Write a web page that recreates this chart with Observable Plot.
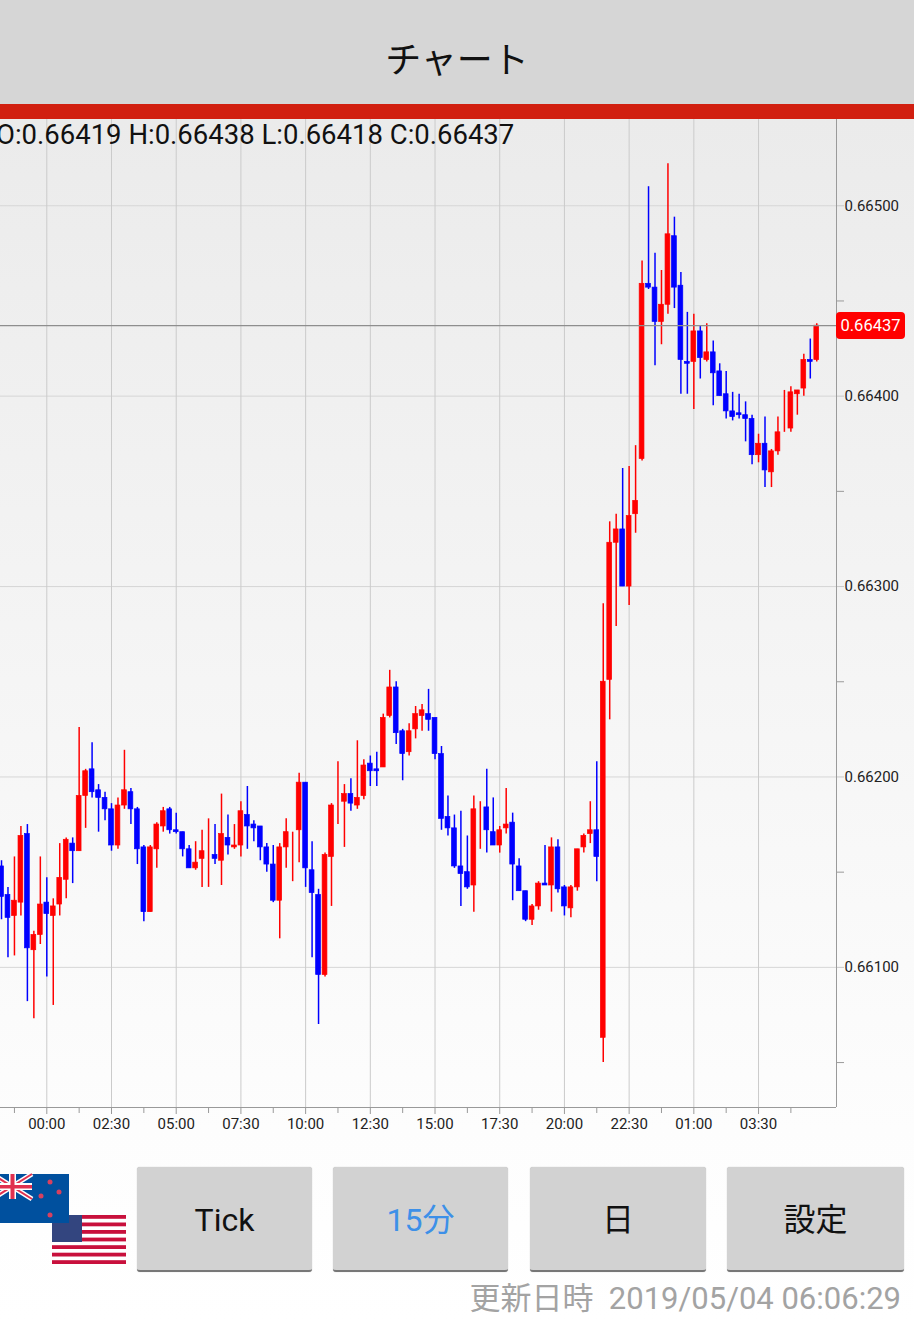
<!DOCTYPE html>
<html lang="ja">
<head>
<meta charset="utf-8">
<script src="https://cdn.jsdelivr.net/npm/d3@7"></script>
<script src="https://cdn.jsdelivr.net/npm/@observablehq/plot@0.6"></script>
<style>
html,body{margin:0;padding:0;width:914px;height:1323px;overflow:hidden;background:#fff}
#page{position:relative;width:914px;height:1323px;overflow:hidden;background:linear-gradient(#ebebeb 119px,#fdfdfd 1130px,#fff 1323px);font-family:Roboto,sans-serif}
#head{position:absolute;left:0;top:0;width:914px;height:104px;background:#d6d6d6;text-align:center;font:36px/114px "Noto Sans CJK JP";color:#111}
#band{position:absolute;left:0;top:104px;width:914px;height:15px;background:#d11f10}
#chart{position:absolute;left:0;top:119px}
#ohlc{position:absolute;left:-4px;top:118px;font-size:27.5px;line-height:34px;color:#111;white-space:nowrap}
#badge{position:absolute;left:836px;width:69px;height:27px;line-height:27px;background:#ff0000;border-radius:4px;color:#fff;font-size:16.5px;text-align:center}
.btn{position:absolute;top:1167px;height:103px;background:#d2d2d2;border-radius:3px;border-bottom:2px solid #777;box-shadow:0 0 1px #aaa;text-align:center;font:32px/106px Roboto,"Noto Sans CJK JP";color:#111}
#stamp{position:absolute;right:13px;top:1278px;font:31px/42px Roboto,"Noto Sans CJK JP";color:#a3a3a3;white-space:nowrap}
#flags{position:absolute;left:0;top:1170px}
</style>
</head>
<body>
<div id="page">
  <div id="head">チャート</div>
  <div id="band"></div>
  <div id="chart"></div>
  <div id="ohlc"></div>
  <div id="badge"></div>
  <svg id="flags" width="130" height="100" viewBox="0 1170 130 100">
    <rect x="52" y="1215" width="74" height="49" fill="#fff"/>
    <g fill="#c8103c">
      <rect x="52" y="1215" width="74" height="3.8"/><rect x="52" y="1222.5" width="74" height="3.8"/><rect x="52" y="1230" width="74" height="3.8"/><rect x="52" y="1237.6" width="74" height="3.8"/><rect x="52" y="1245.2" width="74" height="3.8"/><rect x="52" y="1252.7" width="74" height="3.8"/><rect x="52" y="1260.2" width="74" height="3.8"/>
    </g>
    <rect x="52" y="1215" width="30" height="27" fill="#33457f"/>
    <rect x="0" y="1174" width="69" height="49" fill="#00509e"/>
    <g stroke="#fff" stroke-width="5"><line x1="-8" y1="1174" x2="32" y2="1199"/><line x1="32" y1="1174" x2="-8" y2="1199"/></g>
    <g stroke="#e0304f" stroke-width="2"><line x1="-8" y1="1174" x2="32" y2="1199"/><line x1="32" y1="1174" x2="-8" y2="1199"/></g>
    <path d="M0 1183h32v7H0zM9 1174h7v25H9z" fill="#fff"/>
    <path d="M0 1185h32v3.5H0zM10.5 1174h4v25h-4z" fill="#e0304f"/>
    <g fill="#d8405f"><circle cx="50" cy="1182" r="2.5"/><circle cx="59" cy="1192" r="2.5"/><circle cx="41" cy="1196" r="2.5"/><circle cx="50" cy="1215" r="2.5"/></g>
  </svg>
  <div class="btn" style="left:137px;width:175px">Tick</div>
  <div class="btn" style="left:333px;width:175px;color:#3d90e8">15分</div>
  <div class="btn" style="left:530px;width:176px">日</div>
  <div class="btn" style="left:727px;width:177px">設定</div>
  <div id="stamp">更新日時 &nbsp;2019/05/04 06:06:29</div>
</div>
<script>
const pageTitle = "チャート";
const firstIndex = -7;
const opens = [66153,66138,66127,66134,66170,66109,66117,66134,66127,66133,66146,66165,66161,66190,66204,66193,66189,66183,66164,66185,66192,66183,66163,66129,66162,66174,66183,66172,66171,66162,66152,66157,66159,66159,66156,66168,66163,66164,66180,66175,66174,66163,66154,66135,66163,66171,66172,66197,66151,66138,66096,66158,66186,66187,66191,66185,66190,66207,66204,66205,66232,66247,66224,66213,66225,66232,66233,66231,66212,66179,66173,66153,66150,66143,66184,66184,66171,66164,66173,66176,66153,66140,66125,66132,66144,66143,66163,66142,66131,66142,66163,66170,66172,66063,66251,66323,66330,66300,66338,66367,66459,66457,66439,66448,66484,66458,66418,66418,66434,66419,66423,66413,66401,66392,66391,66390,66388,66369,66375,66360,66371,66382,66383,66401,66404,66419,66419];
const highs = [66156,66142,66158,66174,66175,66119,66158,66147,66136,66165,66168,66168,66226,66204,66218,66196,66192,66186,66189,66214,66194,66184,66164,66164,66176,66184,66184,66181,66171,66164,66166,66172,66178,66175,66191,66180,66175,66187,66195,66177,66174,66165,66164,66165,66178,66171,66202,66197,66166,66141,66160,66186,66208,66196,66199,66219,66209,66211,66213,66233,66256,66250,66225,66228,66237,66238,66246,66231,66216,66190,66180,66182,66169,66190,66187,66204,66189,66174,66194,66181,66157,66140,66133,66145,66164,66168,66167,66143,66143,66162,66170,66187,66208,66291,66334,66338,66362,66363,66374,66471,66510,66475,66466,66522,66494,66465,66444,66443,66437,66438,66429,66417,66413,66402,66401,66397,66390,66380,66389,66372,66389,66403,66405,66403,66422,66430,66438];
const lows = [66125,66105,66106,66127,66082,66073,66112,66095,66080,66127,66136,66144,66161,66173,66189,66171,66177,66161,66162,66183,66175,66154,66124,66129,66152,66171,66170,66170,66158,66152,66151,66142,66142,66154,66143,66159,66162,66158,66162,66166,66156,66150,66134,66115,66152,66145,66155,66142,66105,66070,66095,66132,66175,66163,66182,66183,66188,66195,66195,66205,66231,66217,66198,66211,66220,66224,66224,66209,66172,66169,66152,66132,66141,66129,66162,66160,66164,66160,66170,66135,66140,66124,66122,66130,66143,66129,66139,66127,66126,66140,66160,66165,66145,66050,66230,66279,66300,66290,66328,66366,66456,66416,66427,66443,66446,66401,66401,66393,66409,66418,66395,66400,66388,66387,66388,66376,66364,66365,66352,66352,66369,66381,66381,66390,66400,66409,66418];
const closes = [66137,66126,66135,66169,66110,66117,66133,66128,66132,66147,66167,66161,66190,66203,66192,66189,66183,66164,66185,66193,66183,66162,66129,66163,66175,66182,66172,66171,66162,66152,66155,66161,66159,66157,66170,66164,66164,66182,66174,66173,66163,66154,66135,66163,66171,66171,66197,66152,66139,66096,66159,66185,66186,66191,66186,66189,66206,66203,66203,66231,66247,66223,66212,66224,66233,66235,66230,66212,66178,66173,66153,66149,66142,66183,66184,66172,66164,66172,66175,66154,66140,66125,66132,66144,66143,66163,66141,66132,66142,66162,66169,66172,66158,66250,66323,66330,66300,66337,66345,66459,66457,66439,66448,66485,66457,66419,66417,66434,66420,66423,66412,66400,66392,66389,66390,66388,66369,66375,66361,66371,66381,66382,66402,66403,66419,66418,66437];
const timeTickIndex = [0,10,20,30,40,50,60,70,80,90,100,110];
const timeTickLabels = ["00:00","02:30","05:00","07:30","10:00","12:30","15:00","17:30","20:00","22:30","01:00","03:30"];
const timeMinorIndex = [-5,5,15,25,35,45,55,65,75,85,95,105,115];
const priceTicks = [66100,66200,66300,66400,66500];
const priceMinorTicks = [66050,66150,66250,66350,66450];
const lastPrice = 66437;
const header = {o:66419,h:66438,l:66418,c:66437};

const UP = "#ff0000", DOWN = "#0000ff";
const candles = opens.map((o,k)=>({i:k+firstIndex,o,h:highs[k],l:lows[k],c:closes[k],col:closes[k]>=o?UP:DOWN}));
const fmt = v => (v/1e5).toFixed(5);
const labelOf = new Map(timeTickIndex.map((t,k)=>[t,timeTickLabels[k]]));

const chart = Plot.plot({
  width: 914, height: 1030,
  marginLeft: 0, marginRight: 78, marginTop: 0, marginBottom: 42,
  style: {background:"transparent", fontFamily:"Roboto,sans-serif", overflow:"visible"},
  x: {type:"linear", domain:[-7.156,122.05], axis:null},
  y: {type:"linear", domain:[66026.4,66545.3], axis:null},
  marks: [
    Plot.ruleY(priceTicks, {stroke:"#d6d6d6", strokeWidth:1}),
    Plot.ruleX(timeTickIndex, {stroke:"#cbcbcb", strokeWidth:1}),
    Plot.ruleX(candles, {x:"i", y1:"l", y2:"h", stroke:"col", strokeWidth:1.5}),
    Plot.rect(candles, {x1:d=>d.i-0.37, x2:d=>d.i+0.37, y1:"o", y2:"c", fill:"col", stroke:"col", strokeWidth:0.7}),
    Plot.ruleY([lastPrice], {stroke:"#8e8e8e", strokeWidth:1.3}),
    Plot.ruleX([122.05], {stroke:"#9a9a9a", strokeWidth:1}),
    Plot.ruleY([66026.4], {stroke:"#9a9a9a", strokeWidth:1}),
    Plot.axisX({anchor:"bottom", ticks:timeTickIndex, tickSize:7, tickPadding:4, stroke:"#9a9a9a", fill:"#222", fontSize:15, label:null, tickFormat:t=>labelOf.get(t)}),
    Plot.axisX({anchor:"bottom", ticks:timeMinorIndex, tickSize:6, stroke:"#9a9a9a", label:null, tickFormat:()=>""}),
    Plot.axisY({anchor:"right", ticks:priceTicks, tickSize:7, tickPadding:1, stroke:"#c8c8c8", fill:"#222", fontSize:15, label:null, tickFormat:fmt}),
    Plot.axisY({anchor:"right", ticks:priceMinorTicks, tickSize:7, stroke:"#9a9a9a", label:null, tickFormat:()=>""})
  ]
});
document.getElementById("chart").appendChild(chart);
document.getElementById("ohlc").textContent = `O:${fmt(header.o)} H:${fmt(header.h)} L:${fmt(header.l)} C:${fmt(header.c)}`;
const badge = document.getElementById("badge");
badge.textContent = fmt(lastPrice);
badge.style.top = (119 + chart.scale("y").apply(lastPrice) - 13.5) + "px";
</script>
</body>
</html>
